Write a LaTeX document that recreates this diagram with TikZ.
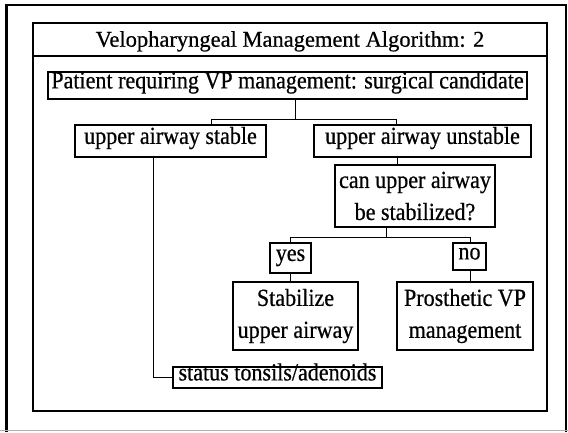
\documentclass[tikz,border=0pt]{standalone}
\usepackage{fontspec}
\setmainfont[FakeBold=0.6]{Liberation Serif}
\newfontfamily\boxfont[FakeStretch=0.9,FakeBold=0.6]{Liberation Serif}
\usepackage{tikz}
\usetikzlibrary{calc}

\begin{document}
\begin{tikzpicture}[x=1pt,y=-1pt,
    box/.style={draw,line width=1.1pt,inner sep=0pt,font=\boxfont\fontsize{24.5pt}{32pt}\selectfont,text height=0.7em,text depth=0.12em},
    twobox/.style={draw,line width=1.1pt,inner sep=0pt,align=center,font=\boxfont\fontsize{24.5pt}{32pt}\selectfont},
    endbox/.style={twobox,line width=2.2pt},
    link/.style={line width=1pt}]
    \useasboundingbox (0,0) rectangle (568,432);

    \draw[line width=2pt] (6,432)--(6,5)--(566,5)--(566,432);
    \draw[line width=3pt] (6,5)--(6,432);
    \draw[black!30,line width=0.8pt] (0,430)--(568,430);

    \draw[line width=1.2pt] (33,23) rectangle (547,411);
    \draw[line width=1.2pt] (33,56)--(547,56);
    \node[anchor=base,font=\fontsize{22.5pt}{26pt}\selectfont] (title) at (290,46.7) {Velopharyngeal Management Algorithm: 2};

    \node[box,minimum width=479pt,minimum height=27pt] (patient) at (287.5,85.5) {Patient requiring VP management: surgical candidate};
    \node[box,minimum width=191pt,minimum height=32pt] (stable) at (170.5,141) {upper airway stable};
    \node[box,minimum width=217pt,minimum height=32pt] (unstable) at (422.5,141) {upper airway unstable};
    \node[twobox,minimum width=160pt,minimum height=62pt] (can) at (415,196) {can upper airway\\be stabilized?};
    \node[box,minimum width=41pt,minimum height=30pt] (yes) at (290.5,258) {yes};
    \node[box,minimum width=33pt,minimum height=27pt] (no) at (469.5,256.5) {no};
    \node[endbox,minimum width=125pt,minimum height=68pt] (stabilize) at (295.5,316) {Stabilize\\upper airway};
    \node[endbox,minimum width=136pt,minimum height=68pt] (prosthetic) at (465,316) {Prosthetic VP\\management};
    \node[box,minimum width=209pt,minimum height=21pt] (status) at (277.5,377.5) {status tonsils/adenoids};

    \coordinate (pt) at (295,119);
    \coordinate (sp) at (211,119);
    \coordinate (up) at (396,119);
    \coordinate (st) at (153,377.5);
    \coordinate (uc) at (397,160);
    \coordinate (cy) at (386,237);
    \coordinate (yy) at (290.5,237);
    \coordinate (ny) at (470,237);

    \draw[link] (patient.south -| pt)--(pt);
    \draw[link] (stable.north -| sp)--(sp)--(up)--(unstable.north -| up);
    \draw[link] (stable.south -| st)--(st)--(status.west);
    \draw[link] (unstable.south -| uc)--(can.north -| uc);
    \draw[link] (can.south -| cy)--(cy);
    \draw[link] (yes.north)--(yy)--(ny)--(no.north -| ny);
    \draw[link] (yes.south)--(stabilize.north -| yes.south);
    \draw[link] (no.south -| ny)--(prosthetic.north -| ny);
\end{tikzpicture}
\end{document}
